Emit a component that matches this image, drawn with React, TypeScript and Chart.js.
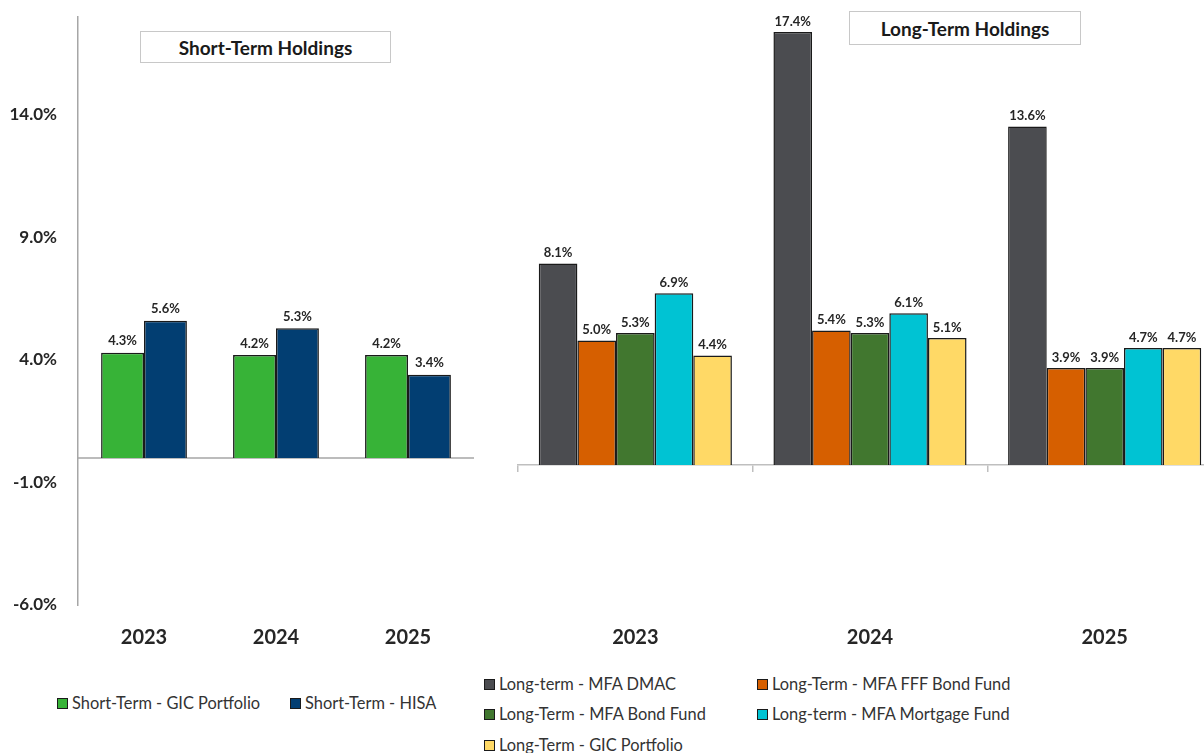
import React, { useEffect, useRef } from "react";
import { Chart, registerables } from "chart.js";

Chart.register(...registerables);

// ---------- data ----------
const years = ["2023", "2024", "2025"];

const shortLabels = ["Short-Term - GIC Portfolio", "Short-Term - HISA"];
const shortColors = ["#37B337", "#023E72"];
const stGic = [4.3, 4.2, 4.2];
const stHisa = [5.6, 5.3, 3.4];

const longLabels = [
  "Long-term - MFA DMAC",
  "Long-Term - MFA FFF Bond Fund",
  "Long-Term - MFA Bond Fund",
  "Long-term - MFA Mortgage Fund",
  "Long-Term - GIC Portfolio",
];
const longColors = ["#4B4C50", "#D65F00", "#41772F", "#00C3D3", "#FFD966"];
const ltDmac = [8.1, 17.4, 13.6];
const ltFff = [5.0, 5.4, 3.9];
const ltBond = [5.3, 5.3, 3.9];
const ltMortgage = [6.9, 6.1, 4.7];
const ltGic = [4.4, 5.1, 4.7];

const leftTicks = [-6, -1, 4, 9, 14];
const leftTitle = "Short-Term Holdings";
const rightTitle = "Long-Term Holdings";

const FONT = "Lato, 'Liberation Sans', sans-serif";
const TEXT = "#262626";
const BORDER = "#1a1a1a";

// ---------- plugins ----------
const makeValueLabels = (gap: number) => ({
  id: "valueLabels",
  afterDatasetsDraw(chart: any) {
    const ctx = chart.ctx;
    ctx.save();
    ctx.font = `bold 13px ${FONT}`;
    ctx.fillStyle = TEXT;
    ctx.textAlign = "center";
    ctx.textBaseline = "bottom";
    chart.data.datasets.forEach((ds: any, i: number) => {
      const meta = chart.getDatasetMeta(i);
      meta.data.forEach((bar: any, j: number) => {
        const v = ds.data[j];
        ctx.fillText(v.toFixed(1) + "%", bar.x, bar.y - gap);
      });
    });
    ctx.restore();
  },
});

const zeroLine = {
  id: "zeroLine",
  beforeDatasetsDraw(chart: any) {
    const { ctx, chartArea, scales } = chart;
    const y = scales.y.getPixelForValue(0);
    ctx.save();
    ctx.strokeStyle = "#A6A6A6";
    ctx.lineWidth = 1.5;
    ctx.beginPath();
    ctx.moveTo(chartArea.left, y);
    ctx.lineTo(chartArea.right, y);
    ctx.stroke();
    ctx.restore();
  },
};

const noPad = (s: any) => {
  s.paddingLeft = 0;
  s.paddingRight = 0;
  s.paddingTop = 0;
  s.paddingBottom = 0;
};

function LeftChart() {
  const ref = useRef<HTMLCanvasElement>(null);
  useEffect(() => {
    const chart = new Chart(ref.current!, {
      type: "bar",
      data: {
        labels: years,
        datasets: [stGic, stHisa].map((d, i) => ({
          label: shortLabels[i],
          data: d,
          backgroundColor: shortColors[i],
          borderColor: BORDER,
          borderWidth: 1.5,
          categoryPercentage: 0.65,
          barPercentage: 1.0,
        })),
      },
      options: {
        responsive: false,
        animation: false,
        layout: { padding: { top: 17, right: 6, left: 0, bottom: 0 } },
        plugins: { legend: { display: false }, tooltip: { enabled: false }, title: { display: false } },
        scales: {
          x: {
            grid: { display: false, drawTicks: false },
            border: { display: false },
            ticks: { color: TEXT, font: { family: FONT, size: 20, weight: "bold" }, padding: 21 },
            afterFit: (s: any) => { s.height = 65; noPad(s); },
          },
          y: {
            min: -6,
            max: 18,
            afterBuildTicks: (s: any) => { s.ticks = leftTicks.map((v) => ({ value: v })); },
            grid: { display: false, drawTicks: false },
            border: { display: true, color: "#A6A6A6", width: 1.5 },
            ticks: {
              color: TEXT,
              font: { family: FONT, size: 17, weight: "bold" },
              padding: 21,
              callback: (v: any) => Number(v).toFixed(1) + "%",
            },
            afterFit: (s: any) => { s.width = 78; noPad(s); },
          },
        },
      },
      plugins: [zeroLine, makeValueLabels(5)],
    } as any);
    return () => chart.destroy();
  }, []);
  return (
    <canvas
      ref={ref}
      width={480}
      height={670}
      style={{ position: "absolute", left: 0, top: 0, width: 480, height: 670 }}
    />
  );
}

function RightChart() {
  const ref = useRef<HTMLCanvasElement>(null);
  useEffect(() => {
    const chart = new Chart(ref.current!, {
      type: "bar",
      data: {
        labels: years,
        datasets: [ltDmac, ltFff, ltBond, ltMortgage, ltGic].map((d, i) => ({
          label: longLabels[i],
          data: d,
          backgroundColor: longColors[i],
          borderColor: BORDER,
          borderWidth: 1.5,
          categoryPercentage: 0.823,
          barPercentage: 1.0,
        })),
      },
      options: {
        responsive: false,
        animation: false,
        layout: { padding: { top: 17, right: 0, left: 38, bottom: 0 } },
        plugins: { legend: { display: false }, tooltip: { enabled: false }, title: { display: false } },
        scales: {
          x: {
            grid: { display: true, drawOnChartArea: false, drawTicks: true, tickLength: 7, color: "#BFBFBF", lineWidth: 1.5 },
            border: { display: true, color: "#BFBFBF", width: 1.5 },
            ticks: { color: TEXT, font: { family: FONT, size: 20, weight: "bold" }, padding: 154 },
            afterFit: (s: any) => { s.height = 205; noPad(s); },
          },
          y: {
            display: false,
            min: 0,
            max: 18,
          },
        },
      },
      plugins: [makeValueLabels(4)],
    } as any);
    return () => chart.destroy();
  }, []);
  return (
    <canvas
      ref={ref}
      width={742}
      height={670}
      style={{ position: "absolute", left: 480, top: 0, width: 742, height: 670 }}
    />
  );
}

function Swatch({ color }: { color: string }) {
  return (
    <span
      style={{
        display: "inline-block",
        width: 9,
        height: 9,
        background: color,
        border: `1px solid ${BORDER}`,
        marginRight: 4,
        verticalAlign: "middle",
        position: "relative",
        top: -1,
      }}
    />
  );
}

const legendText: React.CSSProperties = {
  position: "absolute",
  fontFamily: FONT,
  fontSize: 16.4,
  color: "#333",
  whiteSpace: "nowrap",
  lineHeight: "18px",
};

const titleBox: React.CSSProperties = {
  position: "absolute",
  boxSizing: "border-box",
  border: "1.5px solid #C8C8C8",
  background: "#fff",
  fontFamily: FONT,
  fontWeight: "bold",
  fontSize: 19,
  color: "#1a1a1a",
  display: "flex",
  alignItems: "center",
  justifyContent: "center",
};

export default function App() {
  const longPos = [
    [484, 675],
    [757, 675],
    [484, 705],
    [757, 705],
    [484, 736],
  ];
  return (
    <div
      style={{
        position: "fixed",
        left: 0,
        top: 0,
        width: 1204,
        height: 753,
        overflow: "hidden",
        background: "#fff",
      }}
    >
      <LeftChart />
      <RightChart />
      <div style={{ ...titleBox, left: 140, top: 31, width: 251, height: 32 }}>{leftTitle}</div>
      <div style={{ ...titleBox, left: 849, top: 11, width: 232, height: 34 }}>{rightTitle}</div>
      {shortLabels.map((l, i) => (
        <div key={l} style={{ ...legendText, left: i === 0 ? 57 : 290, top: 694 }}>
          <Swatch color={shortColors[i]} />
          {l}
        </div>
      ))}
      {longLabels.map((l, i) => (
        <div key={l} style={{ ...legendText, left: longPos[i][0], top: longPos[i][1] }}>
          <Swatch color={longColors[i]} />
          {l}
        </div>
      ))}
    </div>
  );
}
